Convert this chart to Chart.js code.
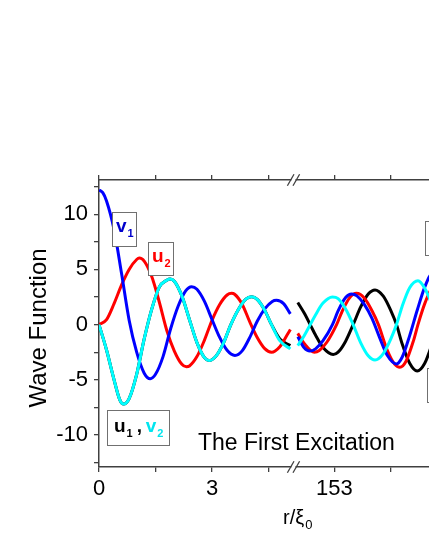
<!DOCTYPE html>
<html>
<head>
<meta charset="utf-8">
<script src="https://cdn.jsdelivr.net/npm/chart.js@4/dist/chart.umd.min.js"></script>
<style>
  html, body { margin: 0; padding: 0; background: #fff; overflow: hidden; }
  #wrap { width: 429px; height: 555px; }
</style>
</head>
<body>
<div id="wrap"><canvas id="waveChart" width="429" height="555"></canvas></div>
<script>
// broken r axis: 0 .. ~5.1 then jumps to ~152
const BREAK_SHIFT = 146.753;
const xTicksR = [0, 1.5, 3, 4.5, 153, 154.5];
const xLabelsR = [0, 3, 153];
const yTicks = [-12.5, -10, -7.5, -5, -2.5, 0, 2.5, 5, 7.5, 10, 12.5];

// v1 (blue)
const v1LeftR  = [0, 0.1, 0.2, 0.4, 0.6, 0.8, 1.0, 1.2, 1.36, 1.5, 1.7, 1.9, 2.1, 2.3, 2.46, 2.6, 2.8, 3.0, 3.2, 3.4, 3.61, 3.8, 4.0, 4.2, 4.4, 4.6, 4.71, 4.9, 5.08];
const v1LeftY  = [12.2, 11.95, 11.2, 8.6, 4.6, 0.4, -2.5, -4.4, -4.9, -4.5, -2.9, -0.4, 1.66, 3.06, 3.44, 3.2, 2.1, 0.46, -1.14, -2.33, -2.8, -2.38, -1.18, 0.31, 1.42, 2.1, 2.2, 1.9, 0.97];
const v1RightR = [152.03, 152.2, 152.35, 152.5, 152.7, 152.95, 153.1, 153.3, 153.46, 153.6, 153.8, 154.0, 154.2, 154.4, 154.65, 154.8, 155.0, 155.2, 155.4, 155.6, 155.8];
const v1RightY = [-1.1, -2.1, -2.4, -2.2, -1.46, 0, 1.24, 2.45, 2.78, 2.6, 1.81, 0.56, -1.16, -2.75, -3.56, -2.96, -1.0, 1.3, 3.4, 4.6, 4.4];

// u2 (red)
const u2LeftR  = [0, 0.2, 0.4, 0.6, 0.8, 1.0, 1.07, 1.2, 1.4, 1.6, 1.8, 2.0, 2.2, 2.32, 2.4, 2.6, 2.8, 3.0, 3.2, 3.4, 3.52, 3.6, 3.8, 4.0, 4.2, 4.4, 4.58, 4.8, 5.0, 5.08];
const u2LeftY  = [0, 0.45, 1.9, 3.6, 5.0, 5.9, 6.03, 5.75, 4.35, 2.05, -0.53, -2.4, -3.6, -3.82, -3.75, -2.9, -1.4, 0.39, 1.8, 2.68, 2.83, 2.75, 1.85, 0.26, -1.17, -2.18, -2.5, -2.0, -0.9, -0.45];
const u2RightR = [152.03, 152.2, 152.47, 152.6, 152.8, 153.06, 153.2, 153.4, 153.59, 153.8, 154.0, 154.17, 154.4, 154.6, 154.74, 154.9, 155.1, 155.22, 155.4, 155.6, 155.8];
const u2RightY = [-0.8, -1.7, -2.5, -2.35, -1.6, 0, 1.14, 2.4, 2.83, 2.38, 1.25, 0, -2.28, -3.58, -3.86, -3.34, -1.47, 0, 1.9, 3.4, 4.2];

// v2 (cyan)
const v2LeftR  = [0, 0.2, 0.4, 0.55, 0.65, 0.8, 1.0, 1.2, 1.4, 1.6, 1.8, 1.89, 2.0, 2.2, 2.4, 2.6, 2.8, 2.92, 3.1, 3.3, 3.5, 3.7, 3.9, 4.05, 4.2, 4.4, 4.58, 4.8, 5.08];
const v2LeftY  = [0, -2.3, -5.0, -6.8, -7.2, -6.7, -4.5, -1.3, 1.4, 3.4, 4.02, 4.13, 3.93, 2.6, 0.47, -1.63, -3.0, -3.26, -2.88, -1.7, 0, 1.37, 2.3, 2.53, 2.28, 1.29, 0, -1.46, -2.2];
const v2RightR = [152.03, 152.2, 152.36, 152.5, 152.7, 152.95, 153.1, 153.3, 153.5, 153.7, 153.9, 154.08, 154.3, 154.5, 154.65, 154.8, 155.0, 155.22, 155.4, 155.6, 155.8];
const v2RightY = [-1.9, -1.0, 0, 0.88, 1.95, 2.5, 2.35, 1.42, 0, -1.65, -2.82, -3.2, -2.62, -1.3, 0, 1.65, 3.34, 3.98, 3.3, 1.7, -0.5];

// u1 (black) - hidden under the cyan one on the left
const u1LeftR  = [0, 0.2, 0.4, 0.55, 0.65, 0.8, 1.0, 1.2, 1.4, 1.6, 1.8, 1.89, 2.0, 2.2, 2.4, 2.6, 2.8, 2.92, 3.1, 3.3, 3.5, 3.7, 3.9, 4.05, 4.2, 4.4, 4.58, 4.8, 5.08];
const u1LeftY  = [0, -2.3, -5.0, -6.8, -7.2, -6.7, -4.5, -1.3, 1.4, 3.4, 4.02, 4.13, 3.93, 2.6, 0.47, -1.63, -3.0, -3.26, -2.88, -1.7, 0, 1.37, 2.3, 2.53, 2.28, 1.29, 0, -1.3, -1.9];
const u1RightR = [152.03, 152.2, 152.36, 152.5, 152.7, 152.97, 153.1, 153.3, 153.5, 153.7, 153.9, 154.08, 154.3, 154.5, 154.65, 154.8, 155.0, 155.2, 155.4, 155.6, 155.8];
const u1RightY = [2.0, 1.05, 0, -0.95, -2.08, -2.71, -2.5, -1.5, 0, 1.6, 2.77, 3.14, 2.58, 1.27, 0, -1.74, -3.5, -4.2, -3.5, -1.7, 0.3];

const FONT = '"Liberation Sans", Arial, sans-serif';
const AXIS = '#404040';

function toAxis(r) {
  return r > 100 ? r - BREAK_SHIFT : r;
}

function makePoints(lr, ly, rr, ry) {
  const pts = lr.map((r, i) => ({ x: toAxis(r), y: ly[i] }));
  pts.push({ x: 5.18, y: null }); // gap at the break
  rr.forEach((r, i) => pts.push({ x: toAxis(r), y: ry[i] }));
  return pts;
}

function line(label, pts, color, order) {
  return {
    label: label, data: pts, borderColor: color, backgroundColor: color,
    borderWidth: 3, pointRadius: 0, cubicInterpolationMode: 'monotone',
    spanGaps: false, order: order
  };
}

function xTickSetup(scale) {
  scale.ticks = xTicksR.map(r => ({ value: toAxis(r) }));
}

function xLabel(value) {
  const r = value > 5.5 ? Math.round((value + BREAK_SHIFT) * 10) / 10 : value;
  return xLabelsR.includes(r) ? String(r) : '';
}

// text with a subscript, returns end x
function subText(ctx, x, y, main, sub, color, size) {
  ctx.fillStyle = color;
  ctx.font = 'bold ' + size + 'px ' + FONT;
  ctx.fillText(main, x, y);
  x += ctx.measureText(main).width + 1;
  ctx.font = 'bold ' + Math.round(size * 0.6) + 'px ' + FONT;
  ctx.fillText(sub, x, y + 5);
  return x + ctx.measureText(sub).width;
}

function box(ctx, x, y, w, h) {
  ctx.fillStyle = '#fff';
  ctx.fillRect(x, y, w, h);
  ctx.strokeStyle = '#707070';
  ctx.lineWidth = 1;
  ctx.strokeRect(x + 0.5, y + 0.5, w, h);
}

const decorPlugin = {
  id: 'decor',
  afterDraw(chart) {
    const ctx = chart.ctx;
    const area = chart.chartArea;
    ctx.save();
    ctx.textBaseline = 'alphabetic';
    ctx.textAlign = 'left';

    // break marks on top and bottom axes
    [area.top, area.bottom].forEach(y => {
      ctx.fillStyle = '#fff';
      ctx.fillRect(291.5, y - 2, 4, 4);
      ctx.strokeStyle = AXIS;
      ctx.lineWidth = 1.3;
      [290.7, 296.3].forEach(cx => {
        ctx.beginPath();
        ctx.moveTo(cx - 3.3, y + 5.8);
        ctx.lineTo(cx + 3.3, y - 5.8);
        ctx.stroke();
      });
    });

    // curve labels
    box(ctx, 112, 212, 24, 34);
    subText(ctx, 116, 232, 'v', '1', '#0000cc', 19);
    box(ctx, 148, 242, 25, 33);
    subText(ctx, 152, 262, 'u', '2', '#ff0000', 19);
    box(ctx, 107, 410, 62, 35);
    let x = subText(ctx, 114, 432, 'u', '1', '#000', 19);
    ctx.font = 'bold 19px ' + FONT;
    ctx.fillStyle = '#000';
    ctx.fillText(',', x + 4, 432);
    subText(ctx, x + 13, 432, 'v', '2', '#00e5ee', 19);
    // label boxes at the right edge (cut off)
    box(ctx, 425, 221, 40, 34);
    box(ctx, 427, 368, 40, 34);

    // in-plot title
    ctx.fillStyle = '#000';
    ctx.font = '23px ' + FONT;
    ctx.fillText('The First Excitation', 198, 450);

    // axis titles
    ctx.font = '20px ' + FONT;
    ctx.fillText('r/\u03be', 283, 524);
    const w = ctx.measureText('r/\u03be').width;
    ctx.font = '13px ' + FONT;
    ctx.fillText('0', 283 + w + 1, 529);

    ctx.translate(46, 328);
    ctx.rotate(-Math.PI / 2);
    ctx.textAlign = 'center';
    ctx.font = '24px ' + FONT;
    ctx.fillText('Wave Function', 0, 0);
    ctx.restore();
  }
};

const ctx = document.getElementById('waveChart').getContext('2d');
const waveChart = new Chart(ctx, {
  type: 'line',
  data: {
    datasets: [
      line('u1', makePoints(u1LeftR, u1LeftY, u1RightR, u1RightY), '#000000', 3),
      line('u2', makePoints(u2LeftR, u2LeftY, u2RightR, u2RightY), '#ff0000', 2),
      line('v1', makePoints(v1LeftR, v1LeftY, v1RightR, v1RightY), '#0000ff', 1),
      line('v2', makePoints(v2LeftR, v2LeftY, v2RightR, v2RightY), '#00ffff', 0)
    ]
  },
  options: {
    responsive: false,
    animation: false,
    devicePixelRatio: 1,
    layout: { padding: 0 },
    plugins: { legend: { display: false }, tooltip: { enabled: false } },
    scales: {
      x: {
        type: 'linear', position: 'bottom', min: 0, max: 8.76,
        afterBuildTicks: xTickSetup,
        afterFit: s => { s.height = 88; },
        grid: { drawOnChartArea: false, drawTicks: true, tickLength: 5, color: AXIS, lineWidth: 1.3 },
        border: { display: true, color: AXIS, width: 1.5 },
        ticks: { callback: xLabel, autoSkip: false, maxRotation: 0, color: '#000', padding: 4, font: { family: FONT, size: 22 } }
      },
      x2: {
        type: 'linear', position: 'top', min: 0, max: 8.76,
        afterBuildTicks: xTickSetup,
        afterFit: s => { s.height = 180; },
        grid: { drawOnChartArea: false, drawTicks: true, tickLength: 5, color: AXIS, lineWidth: 1.3 },
        border: { display: true, color: AXIS, width: 1.5 },
        ticks: { callback: () => '', autoSkip: false }
      },
      y: {
        type: 'linear', min: -12.9, max: 13.1,
        afterBuildTicks: s => { s.ticks = yTicks.map(v => ({ value: v })); },
        afterFit: s => { s.width = 99; },
        grid: { drawOnChartArea: false, drawTicks: true, tickLength: 5, color: AXIS, lineWidth: 1.3 },
        border: { display: true, color: AXIS, width: 1.5 },
        ticks: {
          callback: v => (v % 5 === 0 ? String(v) : ''),
          autoSkip: false, color: '#000', padding: 6, font: { family: FONT, size: 22 }
        }
      }
    }
  },
  plugins: [decorPlugin]
});
</script>
</body>
</html>
